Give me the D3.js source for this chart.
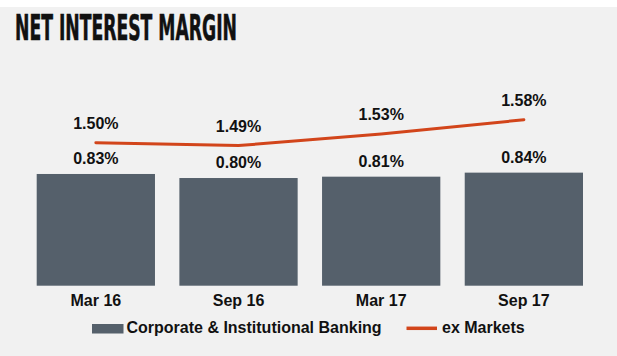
<!DOCTYPE html>
<html>
<head>
<meta charset="utf-8">
<script src="https://cdn.jsdelivr.net/npm/d3@7"></script>
<style>
  html, body { margin: 0; padding: 0; background: #ffffff; }
  svg { display: block; }
</style>
</head>
<body>
<svg id="chart" width="617" height="356"></svg>
<script>
const categories = ["Mar 16", "Sep 16", "Mar 17", "Sep 17"];
const cibValues = [0.83, 0.80, 0.81, 0.84];
const exMarketsValues = [1.50, 1.49, 1.53, 1.58];
const seriesNames = ["Corporate & Institutional Banking", "ex Markets"];
const title = "NET INTEREST MARGIN";

const W = 617, H = 356;
const barColor = "#55606b";
const lineColor = "#d2451b";
const font = "'Liberation Sans', Arial, sans-serif";

const svg = d3.select("#chart");
svg.append("rect").attr("x", 0).attr("y", 7).attr("width", W).attr("height", H - 7).attr("fill", "#f1f1f1");

svg.append("text")
  .attr("x", 15).attr("y", 40)
  .attr("textLength", 222).attr("lengthAdjust", "spacingAndGlyphs")
  .style("font-family", "'Liberation Sans Narrow', 'DejaVu Sans Condensed', sans-serif")
  .style("font-weight", "bold").style("font-size", "35px")
  .attr("stroke", "#111").attr("stroke-width", 0.6)
  .attr("fill", "#111").text(title);

const bottom = 285.7;
const x = d3.scaleBand().domain(categories).range([24.5, 595.2]).paddingInner(0.171).paddingOuter(0.0855);
const y1 = d3.scaleLinear().domain([0, 1]).range([bottom, bottom - 134.6]);
const y2 = d3.scaleLinear().domain([1.0, 2.0]).range([bottom + 0.5, bottom + 0.5 - 287]);

svg.append("g").selectAll("rect").data(cibValues).join("rect")
  .attr("x", (d, i) => x(categories[i]))
  .attr("width", x.bandwidth())
  .attr("y", d => y1(d))
  .attr("height", d => bottom - y1(d))
  .attr("fill", barColor);

svg.append("g").selectAll("text").data(cibValues).join("text")
  .attr("x", (d, i) => x(categories[i]) + x.bandwidth() / 2)
  .attr("y", d => y1(d) - 10)
  .attr("text-anchor", "middle")
  .style("font-family", font).style("font-weight", "bold").style("font-size", "16px")
  .attr("fill", "#111")
  .text(d => d.toFixed(2) + "%");

const line = d3.line()
  .x((d, i) => x(categories[i]) + x.bandwidth() / 2)
  .y(d => y2(d));
svg.append("path").datum(exMarketsValues)
  .attr("d", line).attr("fill", "none")
  .attr("stroke", lineColor).attr("stroke-width", 3).attr("stroke-linecap", "round");

svg.append("g").selectAll("text").data(exMarketsValues).join("text")
  .attr("x", (d, i) => x(categories[i]) + x.bandwidth() / 2)
  .attr("y", d => y2(d) - 14)
  .attr("text-anchor", "middle")
  .style("font-family", font).style("font-weight", "bold").style("font-size", "16px")
  .attr("fill", "#111")
  .text(d => d.toFixed(2) + "%");

const xAxis = svg.append("g").attr("transform", `translate(0,${bottom})`)
  .call(d3.axisBottom(x).tickSize(0).tickPadding(9));
xAxis.select(".domain").remove();
xAxis.selectAll("text")
  .style("font-family", font).style("font-weight", "bold").style("font-size", "16px")
  .attr("fill", "#111");

const leg = svg.append("g");
leg.append("rect").attr("x", 92).attr("y", 324).attr("width", 31.5).attr("height", 9.5).attr("fill", barColor);
leg.append("text").attr("x", 126.5).attr("y", 332.7)
  .style("font-family", font).style("font-weight", "bold").style("font-size", "16px")
  .attr("fill", "#111").text(seriesNames[0]);
leg.append("line").attr("x1", 406.5).attr("x2", 437).attr("y1", 328.3).attr("y2", 328.3)
  .attr("stroke", lineColor).attr("stroke-width", 3.5);
leg.append("text").attr("x", 442).attr("y", 332.7)
  .style("font-family", font).style("font-weight", "bold").style("font-size", "16px")
  .attr("fill", "#111").text(seriesNames[1]);
</script>
</body>
</html>
